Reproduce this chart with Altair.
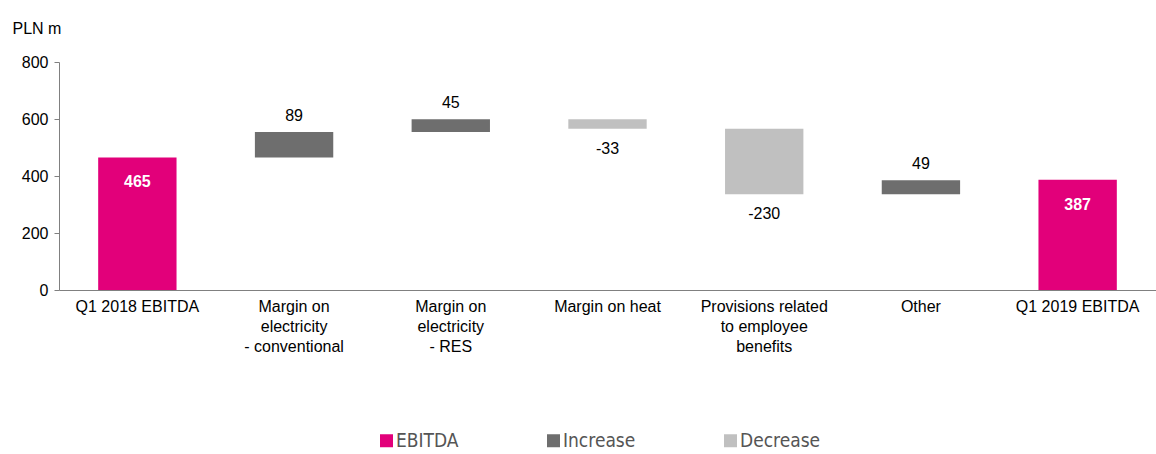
import altair as alt
import pandas as pd

categories = ["Q1 2018 EBITDA", "Margin on|electricity|- conventional", "Margin on|electricity|- RES",
              "Margin on heat", "Provisions related|to employee|benefits", "Other", "Q1 2019 EBITDA"]
values = [465, 89, 45, -33, -230, 49, 387]
kinds = ["EBITDA", "Increase", "Increase", "Decrease", "Decrease", "Increase", "EBITDA"]

rows = []
running = 0
for i, (c, v, k) in enumerate(zip(categories, values, kinds)):
    if k == "EBITDA":
        start, end = 0, v
        running = v
    else:
        start, end = running, running + v
        running = end
    rows.append({"cat": c, "val": v, "kind": k, "start": start, "end": end,
                 "lo": min(start, end), "hi": max(start, end), "order": i,
                 "label": str(v)})
df = pd.DataFrame(rows)

FONT = "Liberation Sans"
x = alt.X("cat:N", sort=categories, title=None,
          scale=alt.Scale(paddingInner=0.5, paddingOuter=0.25),
          axis=alt.Axis(labelAngle=0, labelExpr="split(datum.label, '|')", labelFont=FONT,
                        labelFontSize=16, labelColor="#000000", labelLineHeight=20,
                        ticks=False, domainColor="#808080", labelPadding=8, labelLimit=300))

bars = alt.Chart(df).mark_bar().encode(
    x=x,
    y=alt.Y("start:Q", scale=alt.Scale(domain=[0, 800]),
            axis=alt.Axis(values=[0, 200, 400, 600, 800], grid=False, labelFont=FONT,
                          labelFontSize=16, labelColor="#000000", domainColor="#808080",
                          tickColor="#808080", tickSize=5, labelPadding=6,
                          title="PLN m", titleAngle=0, titleAlign="left", titleBaseline="middle",
                          titleX=-47, titleY=-34, titleFont=FONT, titleFontSize=16,
                          titleFontWeight="normal", titleColor="#000000")),
    y2="end:Q",
    color=alt.Color("kind:N", scale=alt.Scale(domain=["EBITDA", "Increase", "Decrease"],
                                              range=["#E2007A", "#6E6E6E", "#C0C0C0"]),
                    legend=alt.Legend(title=None, orient="none", direction="horizontal",
                                      legendX=318, legendY=369, symbolType="square",
                                      symbolSize=169, symbolStrokeWidth=0,
                                      labelFont="DejaVu Sans Condensed",
                                      labelFontSize=19, labelColor="#555555", columnPadding=85,
                                      labelOffset=0)),
)

inc_text = alt.Chart(df).transform_filter("datum.kind == 'Increase'").mark_text(
    font=FONT, fontSize=16, color="#000000", dy=-16).encode(x=x, y="hi:Q", text="label:N")
dec_text = alt.Chart(df).transform_filter("datum.kind == 'Decrease'").mark_text(
    font=FONT, fontSize=16, color="#000000", dy=20).encode(x=x, y="lo:Q", text="label:N")
ebit_text = alt.Chart(df).transform_filter("datum.kind == 'EBITDA'").mark_text(
    font=FONT, fontSize=16, fontWeight="bold", color="#FFFFFF", dy=25).encode(x=x, y="hi:Q", text="label:N")

chart = alt.layer(bars, inc_text, dec_text, ebit_text).properties(
    width=1097, height=228,
    autosize=alt.AutoSizeParams(type="none"),
    padding={"left": 59, "top": 62, "right": 0, "bottom": 164},
).configure_view(stroke=None)

chart.save("out.html", embed_options={"renderer": "svg", "actions": False})
